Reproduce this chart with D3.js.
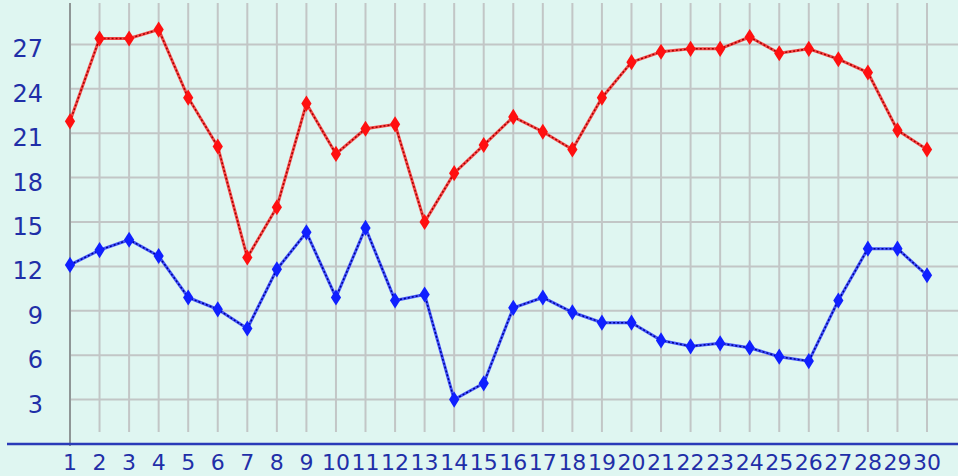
<!DOCTYPE html>
<html>
<head>
<meta charset="utf-8">
<script src="https://cdn.jsdelivr.net/npm/d3@7"></script>
<style>
  body { margin: 0; background: #dff6f1; }
  svg { display: block; }
</style>
</head>
<body>
<div id="chart"></div>
<script>
const width = 958, height = 476;

const days = d3.range(1, 31);
const tmax = [21.8, 27.4, 27.4, 28.0, 23.4, 20.1, 12.6, 16.0, 23.0, 19.6,
              21.3, 21.6, 15.0, 18.3, 20.2, 22.1, 21.1, 19.9, 23.4, 25.8,
              26.5, 26.7, 26.7, 27.5, 26.4, 26.7, 26.0, 25.1, 21.2, 19.9];
const tmin = [12.1, 13.1, 13.8, 12.7, 9.9, 9.1, 7.8, 11.8, 14.3, 9.9,
              14.6, 9.7, 10.1, 3.0, 4.1, 9.2, 9.9, 8.9, 8.2, 8.2,
              7.0, 6.6, 6.8, 6.5, 5.9, 5.6, 9.7, 13.2, 13.2, 11.4];
const yTicks = [3, 6, 9, 12, 15, 18, 21, 24, 27];

const svg = d3.select("#chart")
  .append("svg")
  .attr("width", width)
  .attr("height", height);

svg.append("rect")
  .attr("width", width)
  .attr("height", height)
  .attr("fill", "#dff6f1");

const x = d3.scaleLinear().domain([1, 30]).range([70, 927]);
const y = d3.scaleLinear().domain([0, 30]).range([444, 0]);

// grid
svg.append("g")
  .selectAll("line")
  .data(days)
  .join("line")
  .attr("x1", d => x(d)).attr("x2", d => x(d))
  .attr("y1", 3).attr("y2", 432)
  .attr("stroke", "#c2c6c6")
  .attr("stroke-width", 2);

svg.append("g")
  .selectAll("line")
  .data(yTicks)
  .join("line")
  .attr("x1", x(1)).attr("x2", width)
  .attr("y1", d => y(d)).attr("y2", d => y(d))
  .attr("stroke", "#c2c6c6")
  .attr("stroke-width", 2);

// axes
svg.append("line")
  .attr("x1", x(1)).attr("x2", x(1))
  .attr("y1", 3).attr("y2", 446)
  .attr("stroke", "#8f9696")
  .attr("stroke-width", 2);

svg.append("line")
  .attr("x1", 7).attr("x2", width)
  .attr("y1", y(0)).attr("y2", y(0))
  .attr("stroke", "#2a3ab8")
  .attr("stroke-width", 2.5);

svg.append("g")
  .selectAll("text")
  .data(yTicks)
  .join("text")
  .attr("x", 43)
  .attr("y", d => y(d) + 13)
  .attr("text-anchor", "end")
  .attr("font-family", "DejaVu Sans")
  .attr("font-size", 24)
  .attr("fill", "#1f2fa8")
  .text(d => d);

svg.append("g")
  .selectAll("text")
  .data(days)
  .join("text")
  .attr("x", d => x(d))
  .attr("y", 470)
  .attr("text-anchor", "middle")
  .attr("font-family", "DejaVu Sans")
  .attr("font-size", 22)
  .attr("fill", "#1f2fa8")
  .text(d => d);

// series
const series = [
  { values: tmax, color: "#ff1010", dark: "#a00000" },
  { values: tmin, color: "#1020ff", dark: "#000090" }
];

const line = d3.line()
  .x((d, i) => x(days[i]))
  .y(d => y(d));

const diamond = d3.symbol().type(d3.symbolDiamond).size(75);

series.forEach(s => {
  svg.append("path")
    .attr("d", line(s.values))
    .attr("fill", "none")
    .attr("stroke", s.color)
    .attr("stroke-width", 3)
    .attr("stroke-opacity", 0.75);

  svg.append("path")
    .attr("d", line(s.values))
    .attr("fill", "none")
    .attr("stroke", s.dark)
    .attr("stroke-width", 1.5)
    .attr("stroke-dasharray", "2,2");

  svg.append("g")
    .selectAll("path")
    .data(s.values)
    .join("path")
    .attr("d", diamond)
    .attr("transform", (d, i) => `translate(${x(days[i])},${y(d)}) scale(1.1,1)`)
    .attr("fill", s.color);
});
</script>
</body>
</html>
